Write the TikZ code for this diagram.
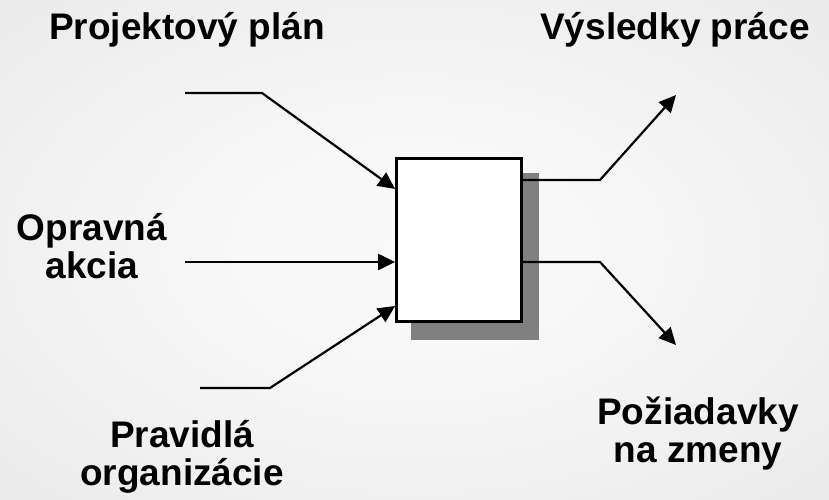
\documentclass[tikz,border=0pt]{standalone}
\usepackage{fontspec}
\setmainfont{Liberation Sans}
\usetikzlibrary{arrows.meta,shadows}
\pgfdeclareradialshading{bgshade}{\pgfpoint{0bp}{0bp}}{color(0bp)=(black!2); color(12bp)=(black!3); color(50bp)=(black!11); color(71bp)=(black!15)}
\begin{document}
\begin{tikzpicture}[x=1pt,y=-1pt,
  lbl/.style={font=\bfseries\fontsize{37}{38}\selectfont, inner sep=0pt, align=center, anchor=base},
  flow/.style={line width=2.2pt, line join=miter, -{Triangle[length=17pt,width=16pt]}},
  procbox/.style={draw, line width=2.8pt, fill=white, minimum width=125pt, minimum height=163pt, inner sep=0pt,
    drop shadow={shadow xshift=16pt, shadow yshift=-16pt, shadow scale=1.025, fill=black!50, opacity=1}}]
\shade[shading=bgshade] (0,0) rectangle (829,499);
\useasboundingbox (0,0) rectangle (829,499);

\node[procbox] (proc) at (459,240) {};

\node[lbl] (plan) at (187,39) {Projektový plán};
\node[lbl] (vys) at (675,39) {Výsledky práce};
\node[lbl] (opr) at (92,278) {Opravná\\akcia};
\node[lbl] (prav) at (182,485) {Pravidlá\\organizácie};
\node[lbl] (poz) at (698,462) {Požiadavky\\na zmeny};

\coordinate (i1a) at (185,93);
\coordinate (i1b) at (262,93);
\coordinate (i2a) at (185,262);
\coordinate (i3a) at (200,388);
\coordinate (i3b) at (270,388);
\coordinate (o1b) at (600,180);
\coordinate (o1c) at (676,95);
\coordinate (o2b) at (600,262);
\coordinate (o2c) at (676,345);

\draw[flow] (i1a) -- (i1b) -- (proc.west |- 0,189);
\draw[flow] (i2a) -- (proc.west |- 0,262);
\draw[flow] (i3a) -- (i3b) -- (proc.west |- 0,306);
\draw[flow] (proc.east |- 0,180) -- (o1b) -- (o1c);
\draw[flow] (proc.east |- 0,262) -- (o2b) -- (o2c);
\end{tikzpicture}
\end{document}
